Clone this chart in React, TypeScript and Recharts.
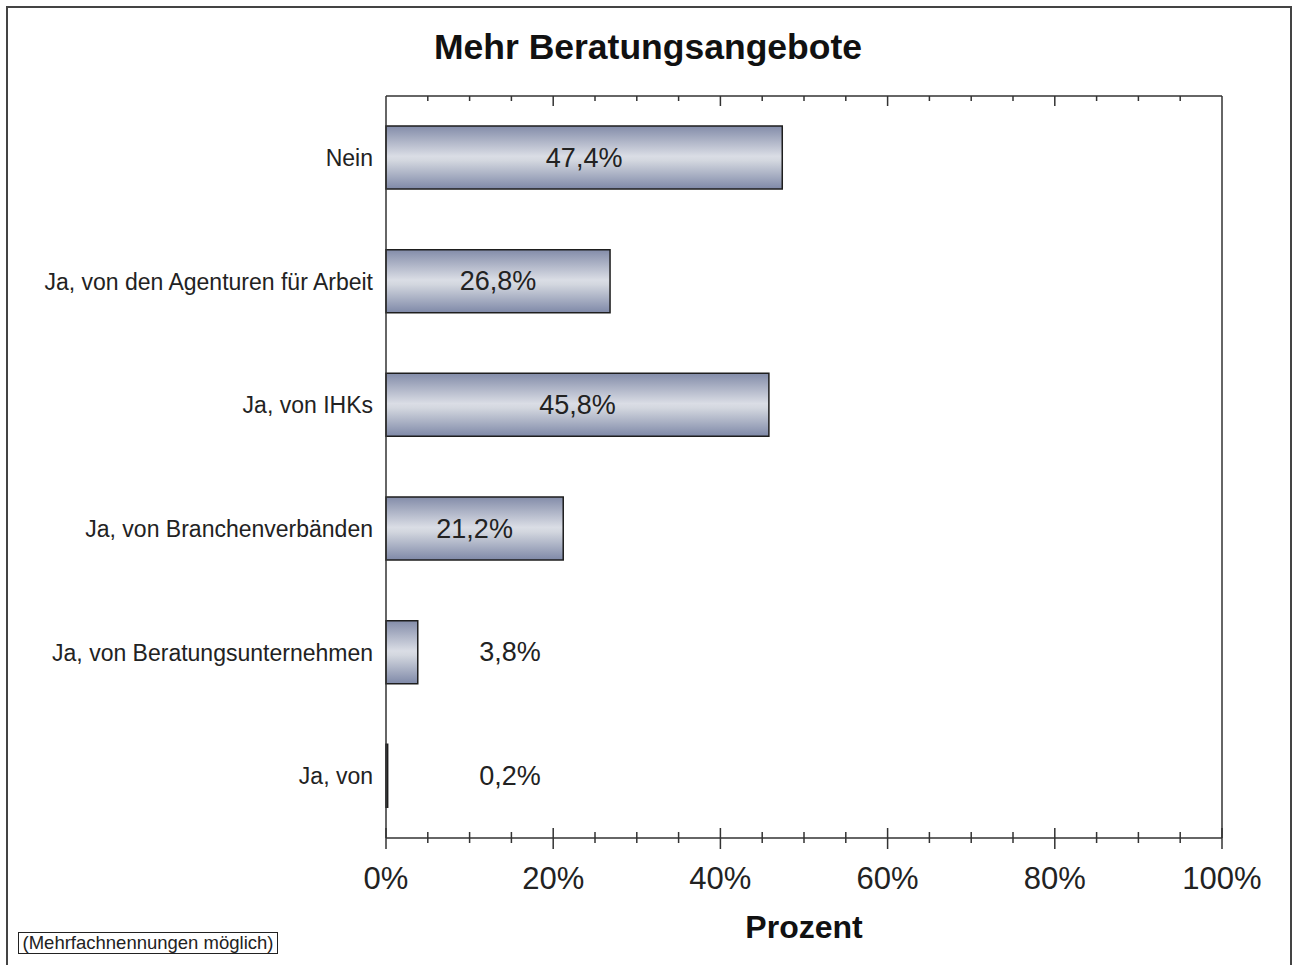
import { BarChart, Bar, XAxis, YAxis, LabelList } from 'recharts';

const categories = [
  'Nein',
  'Ja, von den Agenturen für Arbeit',
  'Ja, von IHKs',
  'Ja, von Branchenverbänden',
  'Ja, von Beratungsunternehmen',
  'Ja, von',
];
const shares = [47.4, 26.8, 45.8, 21.2, 3.8, 0.2];
const xTicks = [0, 5, 10, 15, 20, 25, 30, 35, 40, 45, 50, 55, 60, 65, 70, 75, 80, 85, 90, 95, 100];

const data = categories.map((name, i) => ({ name, value: shares[i] }));

const FONT = '"Liberation Sans", Arial, sans-serif';
const AXIS = '#333';

const CHART_W = 1292;
const CHART_H = 965;
const MARGIN = { top: 95, right: 69, bottom: 126, left: 0 };
const AXIS_H = 1;
// height of the plotting box, used to mirror the tick marks onto the top frame line
const PLOT_H = CHART_H - MARGIN.top - MARGIN.bottom - 2 * AXIS_H;

const fmt = (v: number) => v.toFixed(1).replace('.', ',') + '%';

// bottom axis: ticks cross the line, labels on every 20%; short inward ticks on the top line
const BottomTick = (props: any) => {
  const { x, y, payload } = props;
  const major = payload.value % 20 === 0;
  const top = y - PLOT_H;
  return (
    <g>
      <line x1={x} x2={x} y1={major ? y - 10 : y - 6} y2={major ? y + 11 : y + 5} stroke={AXIS} strokeWidth={1.5} />
      {payload.value > 0 && payload.value < 100 && (
        <line x1={x} x2={x} y1={top} y2={top + (major ? 10 : 5)} stroke={AXIS} strokeWidth={1.5} />
      )}
      {major && (
        <text x={x} y={y + 51} textAnchor="middle" fontSize={31} fontFamily={FONT} fill="#222">
          {payload.value}%
        </text>
      )}
    </g>
  );
};

const CategoryTick = (props: any) => {
  const { x, y, payload } = props;
  return (
    <text x={x} y={y} dy={8} textAnchor="end" fontSize={23} fontFamily={FONT} fill="#222">
      {payload.value}
    </text>
  );
};

// large bars get the value centred inside, small ones get it placed to the right
const ValueLabel = (props: any) => {
  const { x, y, width, height, value } = props;
  const cx = value >= 10 ? x + width / 2 : x + 124;
  return (
    <text x={cx} y={y + height / 2} dy={9} textAnchor="middle" fontSize={27} fontFamily={FONT} fill="#222">
      {fmt(value)}
    </text>
  );
};

export default function App() {
  return (
    <div style={{ position: 'absolute', left: 0, top: 0, width: CHART_W, height: CHART_H, background: '#fff', fontFamily: FONT }}>
      <div
        style={{
          position: 'absolute', left: 6, top: 6, width: 1282, height: 965,
          borderLeft: '2px solid #444', borderTop: '2px solid #444', borderRight: '2px solid #444',
        }}
      />
      <div style={{ position: 'absolute', left: 0, top: 27, width: 1296, textAlign: 'center', fontSize: 35.5, fontWeight: 700, color: '#111' }}>
        Mehr Beratungsangebote
      </div>
      <BarChart width={CHART_W} height={CHART_H} data={data} layout="vertical" margin={MARGIN}>
        <defs>
          <linearGradient id="barFill" x1="0" y1="0" x2="0" y2="1">
            <stop offset="0%" stopColor="#838ca9" />
            <stop offset="48%" stopColor="#dadde5" />
            <stop offset="55%" stopColor="#d3d7df" />
            <stop offset="100%" stopColor="#7f89a8" />
          </linearGradient>
        </defs>
        <XAxis
          xAxisId="bottom"
          type="number"
          domain={[0, 100]}
          ticks={xTicks}
          interval={0}
          height={AXIS_H}
          tickSize={0}
          tickMargin={0}
          tickLine={false}
          axisLine={{ stroke: AXIS, strokeWidth: 1.5 }}
          tick={<BottomTick />}
        />
        <XAxis
          xAxisId="top"
          orientation="top"
          type="number"
          domain={[0, 100]}
          height={AXIS_H}
          tick={false}
          tickLine={false}
          axisLine={{ stroke: AXIS, strokeWidth: 1.5 }}
        />
        <YAxis
          yAxisId="left"
          type="category"
          dataKey="name"
          width={386}
          tickSize={0}
          tickMargin={13}
          tickLine={false}
          interval={0}
          axisLine={{ stroke: AXIS, strokeWidth: 1.5 }}
          tick={<CategoryTick />}
        />
        <YAxis
          yAxisId="right"
          orientation="right"
          type="category"
          dataKey="name"
          width={1}
          tick={false}
          tickLine={false}
          axisLine={{ stroke: AXIS, strokeWidth: 1.5 }}
        />
        <Bar
          xAxisId="bottom"
          yAxisId="left"
          dataKey="value"
          barSize={63}
          fill="url(#barFill)"
          stroke="#1e1e1e"
          strokeWidth={1.5}
          isAnimationActive={false}
        >
          <LabelList dataKey="value" content={<ValueLabel />} />
        </Bar>
      </BarChart>
      <div style={{ position: 'absolute', left: 0, top: 909, width: 1608, textAlign: 'center', fontSize: 32, fontWeight: 700, color: '#111' }}>
        Prozent
      </div>
      <div
        style={{
          position: 'absolute', left: 18, top: 932, width: 258, height: 20, lineHeight: '20px',
          border: '1.5px solid #222', fontSize: 18.5, color: '#222', textAlign: 'center', whiteSpace: 'nowrap',
        }}
      >
        (Mehrfachnennungen möglich)
      </div>
    </div>
  );
}
